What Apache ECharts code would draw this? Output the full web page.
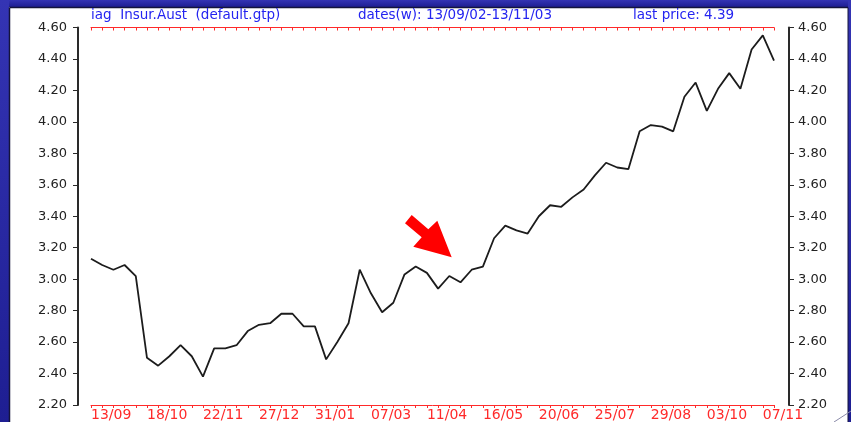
<!DOCTYPE html>
<html>
<head>
<meta charset="utf-8">
<script src="https://cdn.jsdelivr.net/npm/echarts@6/dist/echarts.min.js"></script>
<style>
  html, body { margin: 0; padding: 0; background: #fff; }
  #chart { width: 851px; height: 422px; }
</style>
</head>
<body>
<div id="chart"></div>
<script>
// weekly closes, iag Insur.Aust 13/09/02 - 13/11/03
const dates = [
  '13/09', '20/09', '27/09', '04/10', '11/10', '18/10', '25/10', '01/11', '08/11', '15/11',
  '22/11', '29/11', '06/12', '13/12', '20/12', '27/12', '03/01', '10/01', '17/01', '24/01',
  '31/01', '07/02', '14/02', '21/02', '28/02', '07/03', '14/03', '21/03', '28/03', '04/04',
  '11/04', '18/04', '25/04', '02/05', '09/05', '16/05', '23/05', '30/05', '06/06', '13/06',
  '20/06', '27/06', '04/07', '11/07', '18/07', '25/07', '01/08', '08/08', '15/08', '22/08',
  '29/08', '05/09', '12/09', '19/09', '26/09', '03/10', '10/10', '17/10', '24/10', '31/10',
  '07/11', '13/11'
];
const prices = [
  3.13, 3.09, 3.06, 3.09, 3.02, 2.50, 2.45, 2.51, 2.58, 2.51,
  2.38, 2.56, 2.56, 2.58, 2.67, 2.71, 2.72, 2.78, 2.78, 2.70,
  2.70, 2.49, 2.60, 2.72, 3.06, 2.91, 2.79, 2.85, 3.03, 3.08,
  3.04, 2.94, 3.02, 2.98, 3.06, 3.08, 3.26, 3.34, 3.31, 3.29,
  3.40, 3.47, 3.46, 3.52, 3.57, 3.66, 3.74, 3.71, 3.70, 3.94,
  3.98, 3.97, 3.94, 4.16, 4.25, 4.07, 4.21, 4.31, 4.21, 4.46,
  4.55, 4.39
];
const headerParts = ['iag  Insur.Aust  (default.gtp)', 'dates(w): 13/09/02-13/11/03', 'last price: 4.39'];

const chart = echarts.init(document.getElementById('chart'));

const font = 'DejaVu Sans';
const red = '#ff2a2a';
const axisDark = '#2a2a2a';
const slideBlue = {
  type: 'linear', x: 0, y: 0, x2: 0, y2: 1,
  colorStops: [{ offset: 0, color: '#3434b4' }, { offset: 1, color: '#1e1e92' }]
};

const yAxisCommon = {
  type: 'value',
  min: 2.2,
  max: 4.6,
  interval: 0.2,
  splitLine: { show: false },
  axisLine: { show: true, lineStyle: { color: axisDark, width: 2 } },
  axisTick: { show: true, length: 5, lineStyle: { color: axisDark, width: 1 } },
  axisLabel: {
    color: '#222',
    fontSize: 13,
    fontFamily: font,
    formatter: (v) => v.toFixed(2),
  },
};

chart.setOption({
  backgroundColor: '#fff',
  animation: false,
  grid: { left: 91, right: 77, top: 27.5, bottom: 16.5 },
  xAxis: [
    {
      type: 'category',
      data: dates,
      boundaryGap: false,
      position: 'bottom',
      axisLine: { lineStyle: { color: red, width: 1 } },
      axisTick: { show: true, interval: 0, length: 3, lineStyle: { color: red } },
      axisLabel: {
        interval: 4,
        align: 'left',
        margin: 3,
        color: red,
        fontSize: 14,
        fontFamily: font,
      },
      splitLine: { show: false },
    },
    {
      type: 'category',
      data: dates,
      boundaryGap: false,
      position: 'top',
      axisLine: { lineStyle: { color: red, width: 1 } },
      axisTick: { show: true, inside: true, interval: 0, length: 3, lineStyle: { color: red } },
      axisLabel: { show: false },
      splitLine: { show: false },
    },
  ],
  yAxis: [
    { ...yAxisCommon, position: 'left', offset: 13, axisLabel: { ...yAxisCommon.axisLabel, margin: 11 } },
    { ...yAxisCommon, position: 'right', offset: 15, axisLabel: { ...yAxisCommon.axisLabel, margin: 9 } },
  ],
  series: [
    {
      type: 'line',
      data: prices,
      xAxisIndex: 0,
      yAxisIndex: 0,
      showSymbol: false,
      smooth: false,
      lineStyle: { color: '#1c1c1c', width: 1.8 },
    },
  ],
  graphic: [
    // slide background bands around the white panel
    { type: 'rect', shape: { x: 0, y: 0, width: 851, height: 7 }, style: { fill: slideBlue } },
    { type: 'rect', shape: { x: 0, y: 0, width: 9, height: 422 }, style: { fill: slideBlue } },
    { type: 'rect', shape: { x: 848, y: 0, width: 3, height: 422 }, style: { fill: slideBlue } },
    { type: 'line', shape: { x1: 9.5, y1: 7.5, x2: 848, y2: 7.5 }, style: { stroke: '#14143c', lineWidth: 1.5 } },
    { type: 'line', shape: { x1: 9.5, y1: 7.5, x2: 9.5, y2: 422 }, style: { stroke: '#14143c', lineWidth: 1.5 } },
    { type: 'line', shape: { x1: 848, y1: 7.5, x2: 848, y2: 422 }, style: { stroke: '#14143c', lineWidth: 1 } },
    { type: 'line', shape: { x1: 834, y1: 422, x2: 851, y2: 411 }, style: { stroke: '#8a8aa8', lineWidth: 1 } },
    // header
    { type: 'text', left: 91, top: 8, style: { text: headerParts[0], fill: '#2424f0', fontSize: 13.5, fontFamily: font } },
    { type: 'text', left: 358, top: 8, style: { text: headerParts[1], fill: '#2424f0', fontSize: 13.5, fontFamily: font } },
    { type: 'text', left: 633, top: 8, style: { text: headerParts[2], fill: '#2424f0', fontSize: 13.5, fontFamily: font } },
    // red arrow annotation
    {
      type: 'polygon',
      shape: {
        points: [[411.7, 215], [405, 223.3], [421.7, 237.3], [413.3, 246.7], [451.7, 257.3], [437.3, 220.7], [428.3, 229.3]]
      },
      style: { fill: '#ff0000' },
      z: 100,
    },
  ],
});
</script>
</body>
</html>
